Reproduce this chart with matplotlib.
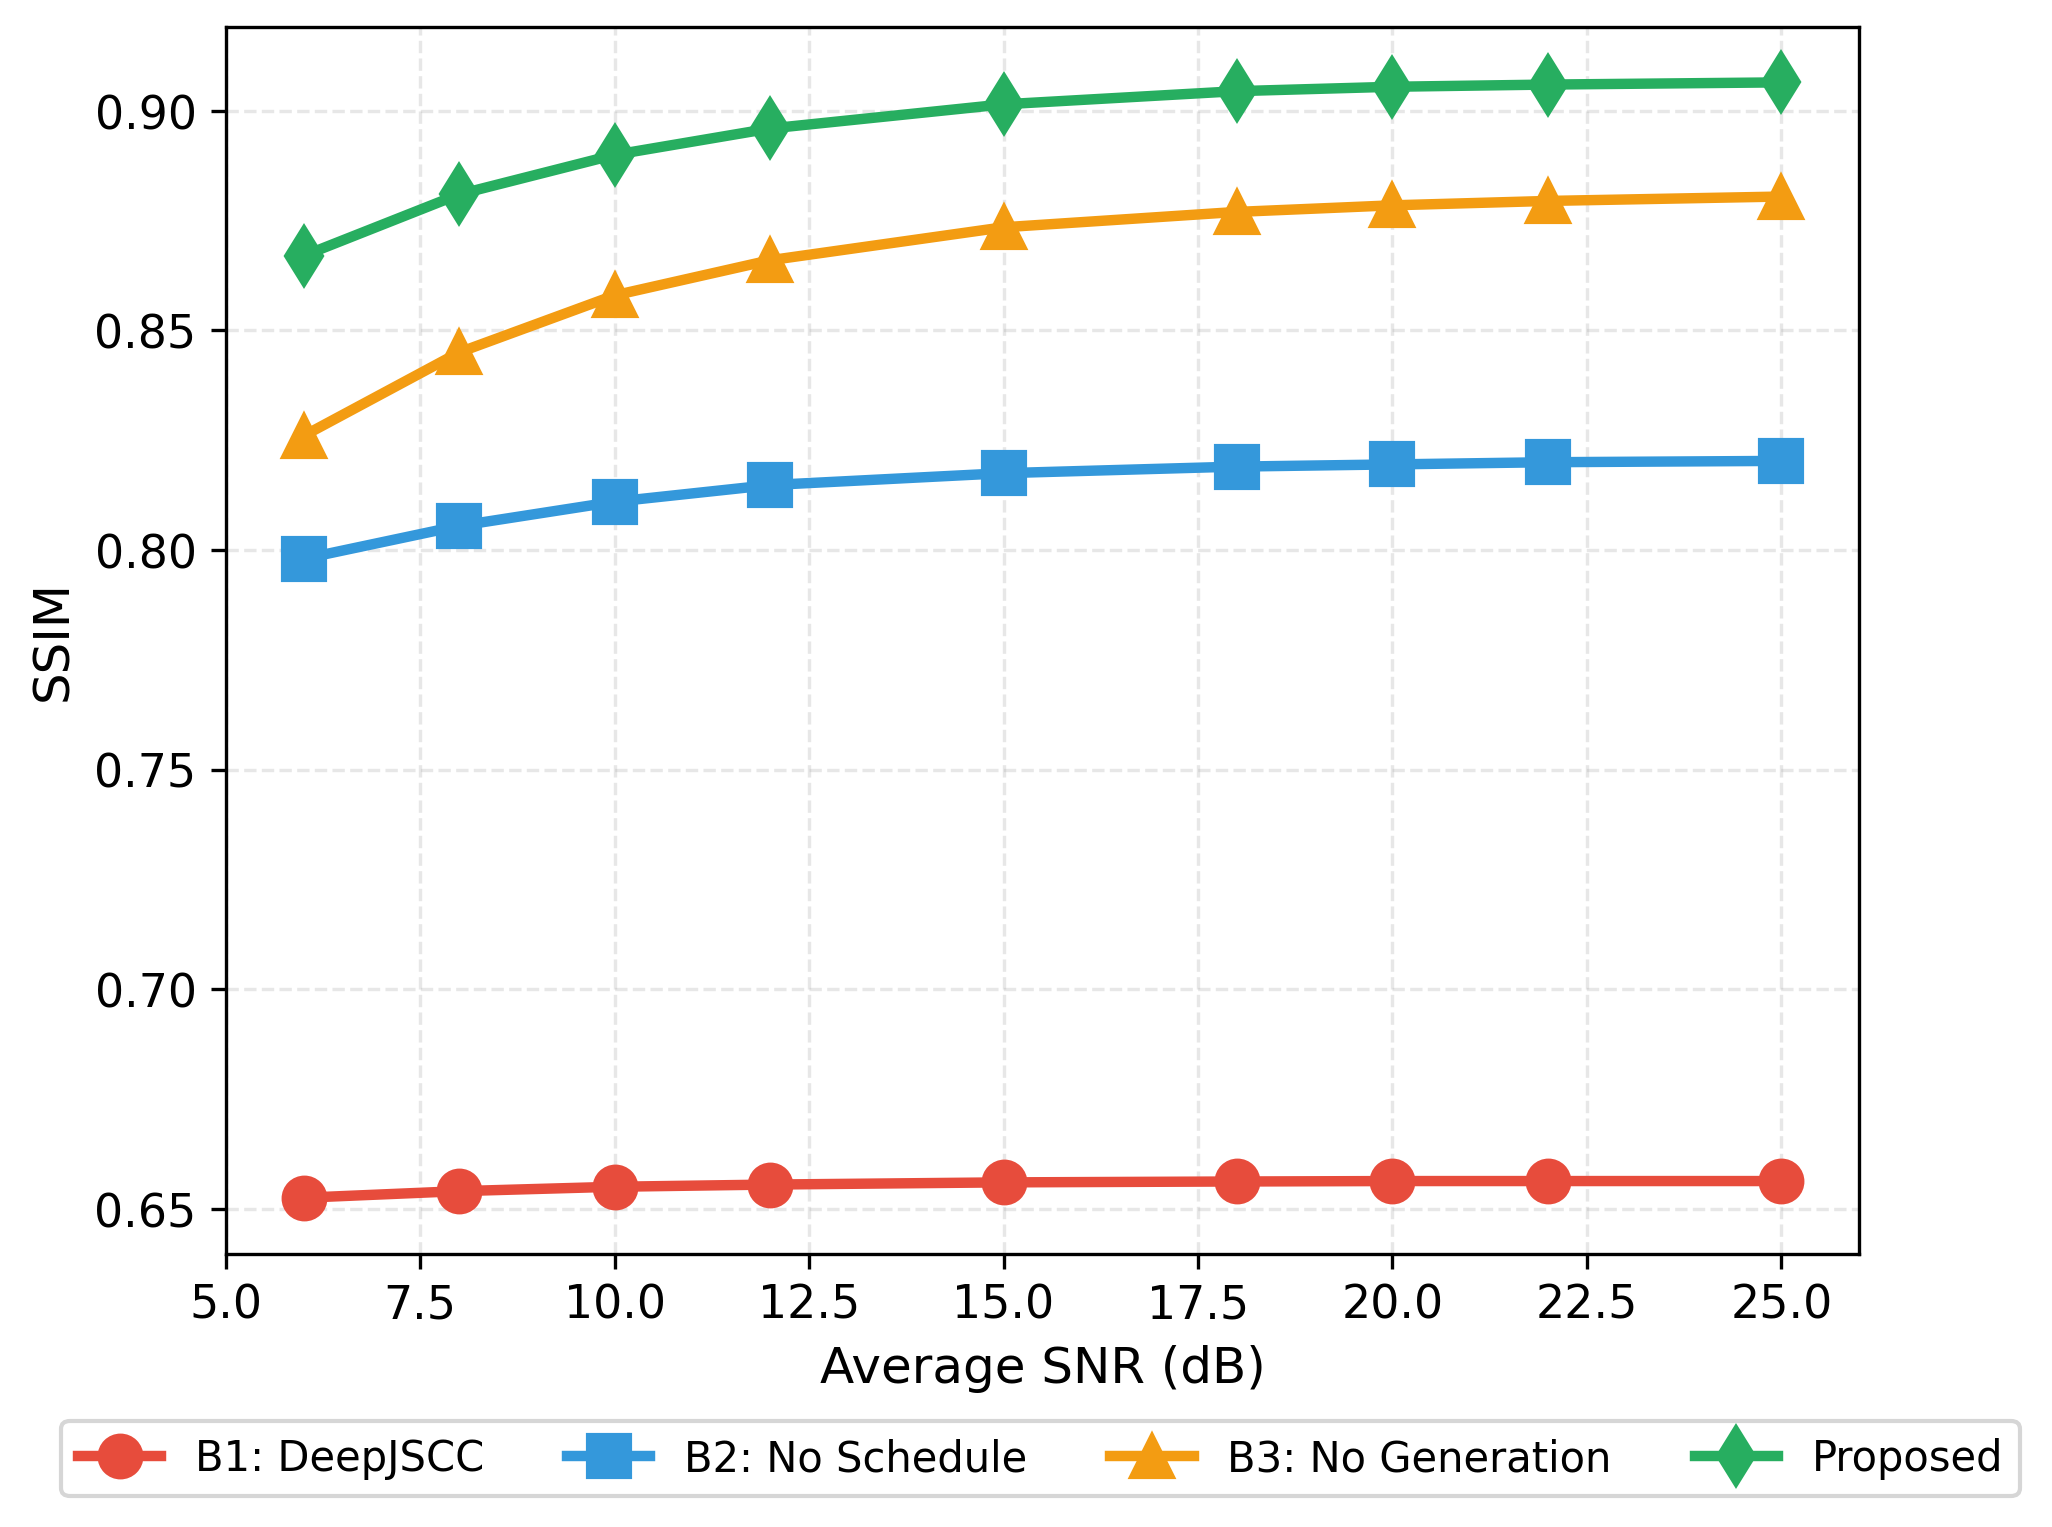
import numpy as np
import matplotlib.pyplot as plt

snr = [6, 8, 10, 12, 15, 18, 20, 22, 25]
b1_deepjscc = [0.6525, 0.654, 0.655, 0.6555, 0.6560, 0.6562, 0.6563, 0.6563, 0.6563]
b2_no_schedule = [0.798, 0.8055, 0.811, 0.8148, 0.8175, 0.819, 0.8195, 0.8200, 0.8203]
b3_no_generation = [0.826, 0.845, 0.858, 0.866, 0.8735, 0.877, 0.8785, 0.8795, 0.8805]
proposed = [0.867, 0.881, 0.890, 0.896, 0.9015, 0.9045, 0.9055, 0.906, 0.9065]

labels = ['B1: DeepJSCC', 'B2: No Schedule', 'B3: No Generation', 'Proposed']
colors = ['#e74c3c', '#3498db', '#f39c12', '#27ae60']
markers = ['o', 's', '^', 'd']

fig, ax = plt.subplots(figsize=(6.84, 5.093), dpi=300)
fig.subplots_adjust(left=0.110, right=0.906, top=0.982, bottom=0.179)

series = [b1_deepjscc, b2_no_schedule, b3_no_generation, proposed]
for vals, lab, c, m in zip(series, labels, colors, markers):
    ax.plot(snr, vals, marker=m, color=c, label=lab, linewidth=2.5, markersize=10)

ax.set_xlim(5, 26)
ax.set_xlabel('Average SNR (dB)', fontsize=12)
ax.set_ylabel('SSIM', fontsize=12)
ax.tick_params(labelsize=11)
ax.grid(True, linestyle='--', alpha=0.3)

handles, labs = ax.get_legend_handles_labels()
fig.legend(handles, labs, loc='center', bbox_to_anchor=(0.507, 0.045), ncol=4, fontsize=10)

fig.savefig('out.png', dpi=300)
